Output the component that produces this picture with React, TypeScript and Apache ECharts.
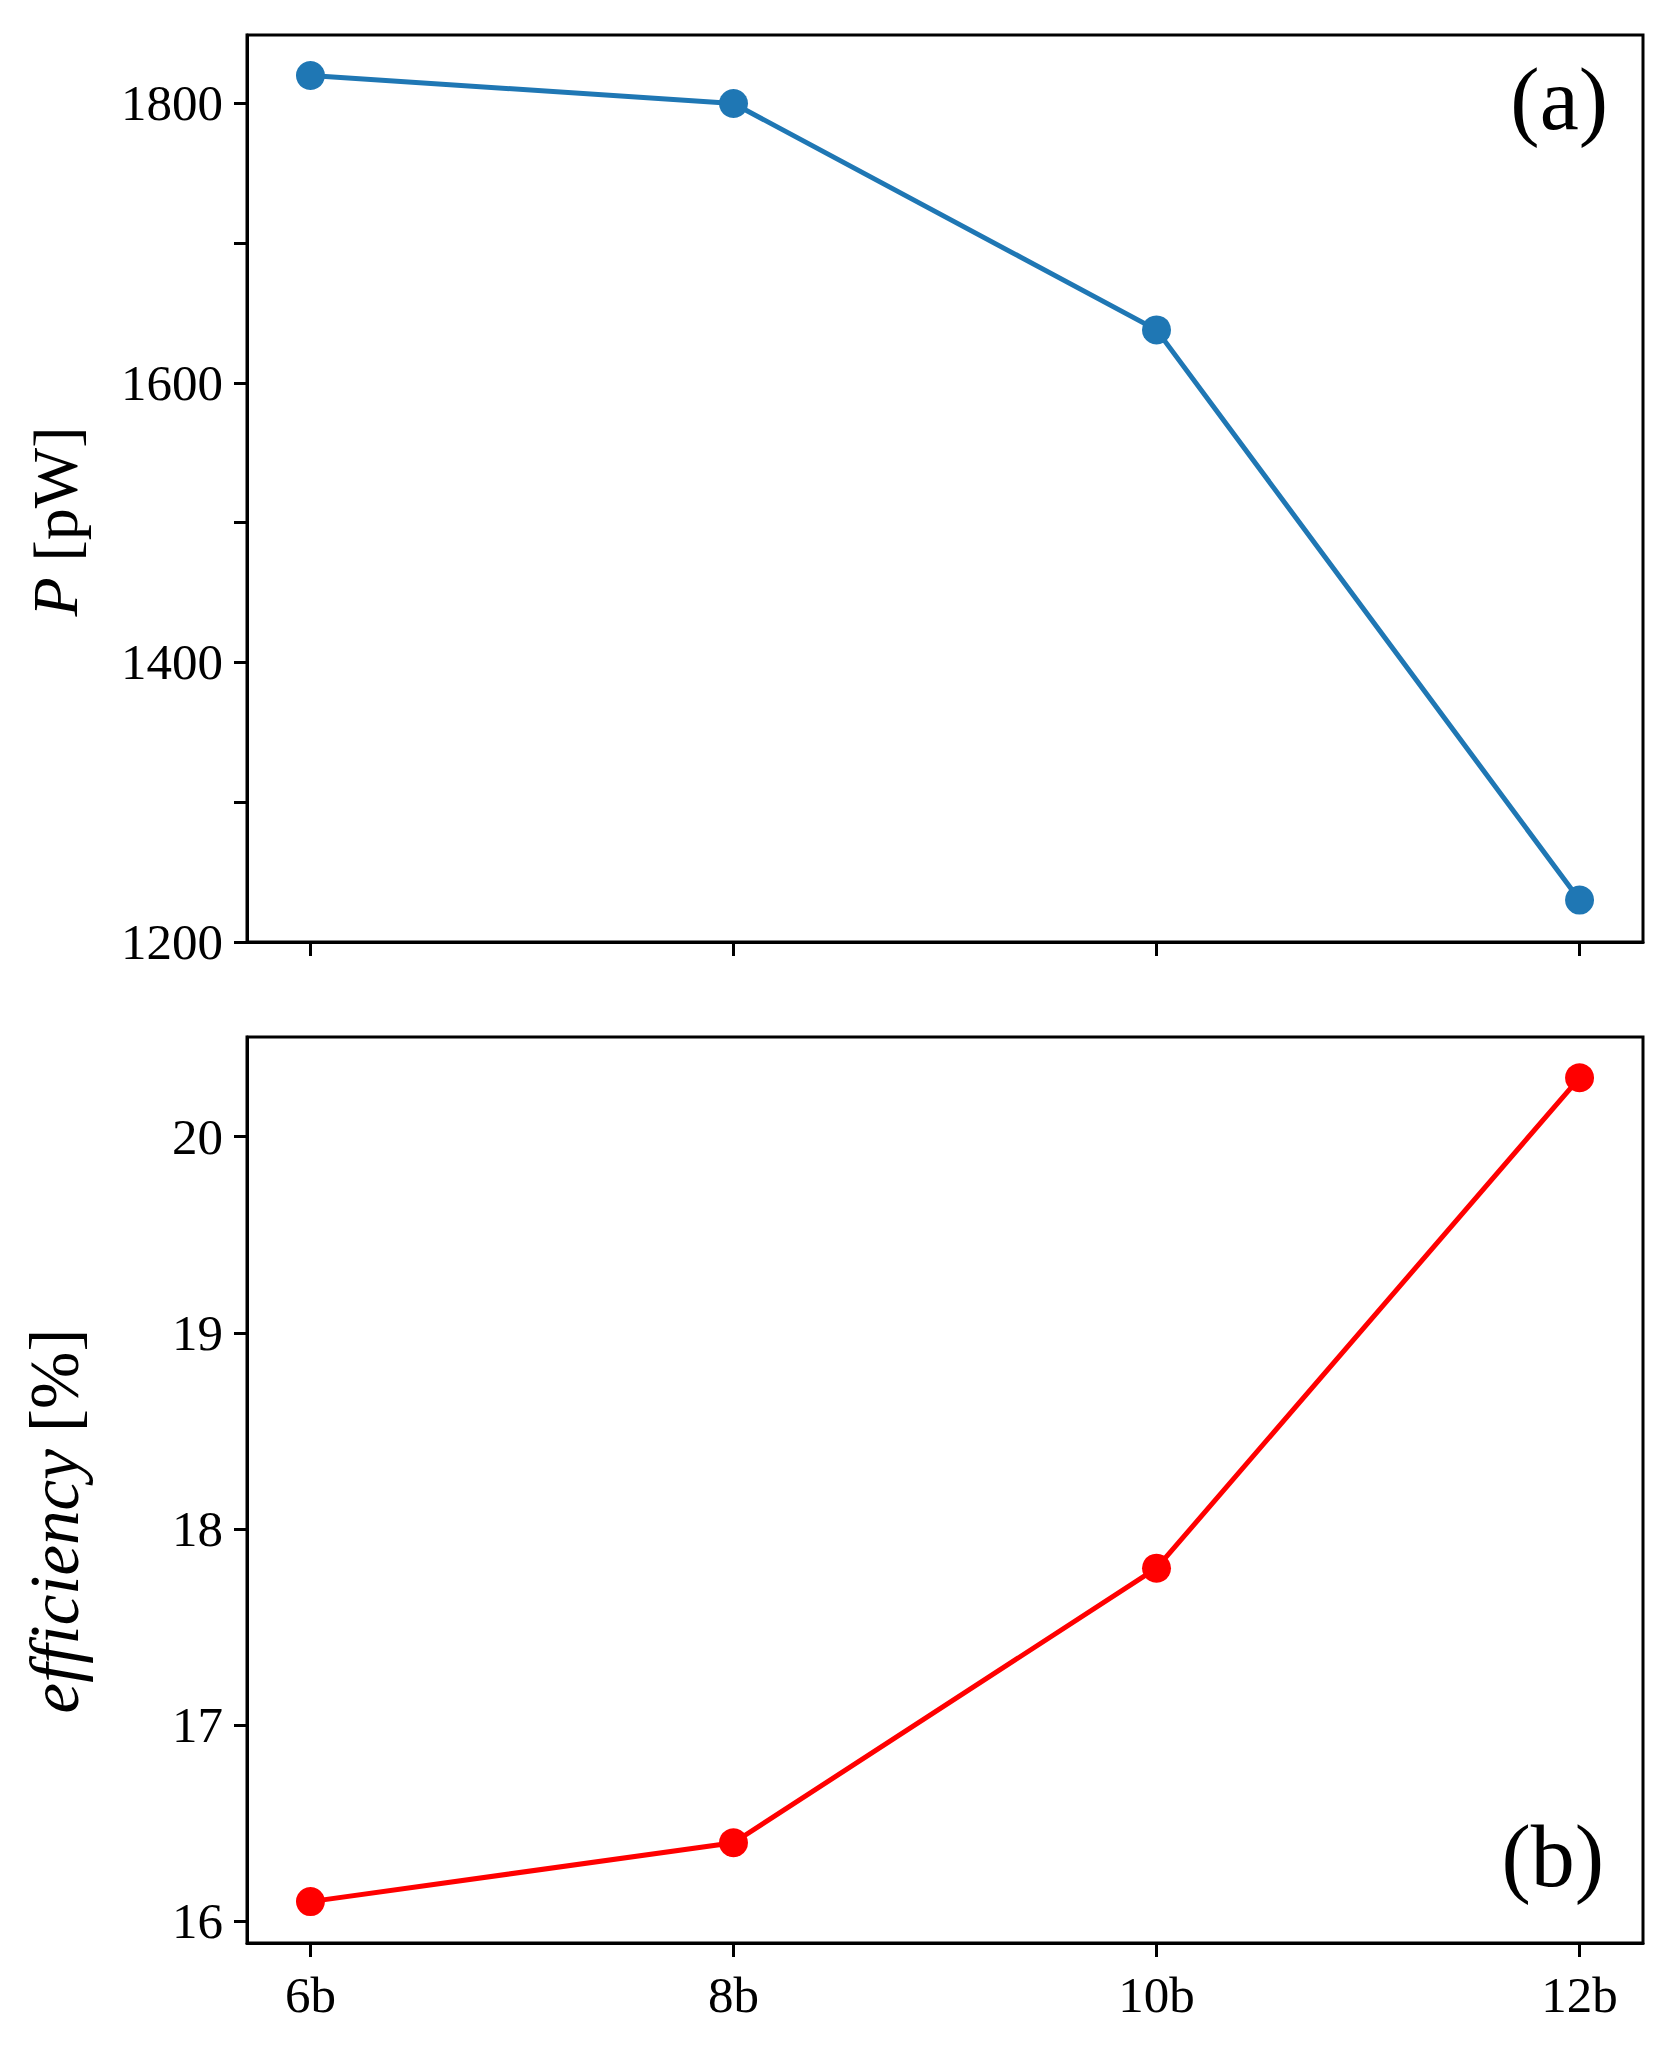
import React, { useEffect, useRef } from "react";
import * as echarts from "echarts";

const categories = ["6b", "8b", "10b", "12b"];
const powerValues = [1820, 1800, 1638, 1230];
const efficiencyValues = [16.1, 16.4, 17.8, 20.3];
const powerTicks = [1200, 1300, 1400, 1500, 1600, 1700, 1800];
const powerLabels = [1200, 1400, 1600, 1800];
const efficiencyTicks = [16, 17, 18, 19, 20];
const categoryIndex = [0, 1, 2, 3];

const FONT = "'Liberation Serif', 'DejaVu Serif', serif";

export default function App() {
  const ref = useRef<HTMLDivElement>(null);
  useEffect(() => {
    if (!ref.current) return;
    const chart = echarts.init(ref.current, null, { renderer: "svg" });
    const axisLine = { show: true, onZero: false, lineStyle: { color: "#000", width: 3 } };
    const tickStyle = { color: "#000", width: 3 };
    const labelStyle = { color: "#000", fontFamily: FONT, fontSize: 51 };
    const nameStyle = (size: number) => ({
      color: "#000",
      fontFamily: FONT,
      fontSize: size,
      rich: { i: { fontFamily: FONT, fontSize: size, fontStyle: "italic", color: "#000" } },
    });
    const xBase = (gridIndex: number, showLabels: boolean) => ({
      type: "value",
      gridIndex,
      min: -0.15,
      max: 3.15,
      axisLine,
      splitLine: { show: false },
      axisTick: { show: true, inside: false, length: 14, lineStyle: tickStyle, customValues: categoryIndex },
      axisLabel: {
        show: showLabels,
        ...labelStyle,
        margin: 26,
        customValues: categoryIndex,
        formatter: (v: number) => categories[Math.round(v)] ?? "",
      },
    });
    chart.setOption({
      animation: false,
      backgroundColor: "#fff",
      grid: [
        { left: 247, top: 35, width: 1396, height: 907, show: true, borderColor: "#000", borderWidth: 3, backgroundColor: "transparent" },
        { left: 247, top: 1037, width: 1396, height: 906, show: true, borderColor: "#000", borderWidth: 3, backgroundColor: "transparent" },
      ],
      xAxis: [xBase(0, false), xBase(1, true)],
      yAxis: [
        {
          type: "value",
          gridIndex: 0,
          min: 1200,
          max: 1849,
          axisLine,
          splitLine: { show: false },
          axisTick: { show: true, inside: false, length: 13, lineStyle: tickStyle, customValues: powerTicks },
          axisLabel: { ...labelStyle, margin: 24, customValues: powerLabels, formatter: (v: number) => String(v) },
          name: "{i|P} [pW]",
          nameLocation: "middle",
          nameRotate: 90,
          nameGap: 160,
          nameTextStyle: { ...nameStyle(64), padding: [0, 66, 0, 0] },
        },
        {
          type: "value",
          gridIndex: 1,
          min: 15.889,
          max: 20.508,
          axisLine,
          splitLine: { show: false },
          axisTick: { show: true, inside: false, length: 13, lineStyle: tickStyle, customValues: efficiencyTicks },
          axisLabel: { ...labelStyle, margin: 24, customValues: efficiencyTicks, formatter: (v: number) => String(v) },
          name: "{i|efficiency} [%]",
          nameLocation: "middle",
          nameRotate: 90,
          nameGap: 158,
          nameTextStyle: { ...nameStyle(69), padding: [0, 62, 0, 0] },
        },
      ],
      series: [
        {
          type: "line",
          xAxisIndex: 0,
          yAxisIndex: 0,
          data: powerValues.map((v, i) => [i, v]),
          symbol: "circle",
          symbolSize: 29,
          lineStyle: { color: "#1f77b4", width: 5 },
          itemStyle: { color: "#1f77b4" },
          clip: false,
        },
        {
          type: "line",
          xAxisIndex: 1,
          yAxisIndex: 1,
          data: efficiencyValues.map((v, i) => [i, v]),
          symbol: "circle",
          symbolSize: 29,
          lineStyle: { color: "#ff0000", width: 5 },
          itemStyle: { color: "#ff0000" },
          clip: false,
        },
      ],
      graphic: [
        {
          type: "text",
          right: 1659 - 1608,
          top: 55,
          style: { text: "(a)", font: `88px ${FONT}`, fill: "#000" },
        },
        {
          type: "text",
          right: 1659 - 1604,
          top: 1812,
          style: { text: "(b)", font: `88px ${FONT}`, fill: "#000" },
        },
      ],
    });
    return () => chart.dispose();
  }, []);
  return (
    <div
      ref={ref}
      style={{ position: "absolute", left: 0, top: 0, width: 1659, height: 2052, background: "#fff" }}
    />
  );
}
